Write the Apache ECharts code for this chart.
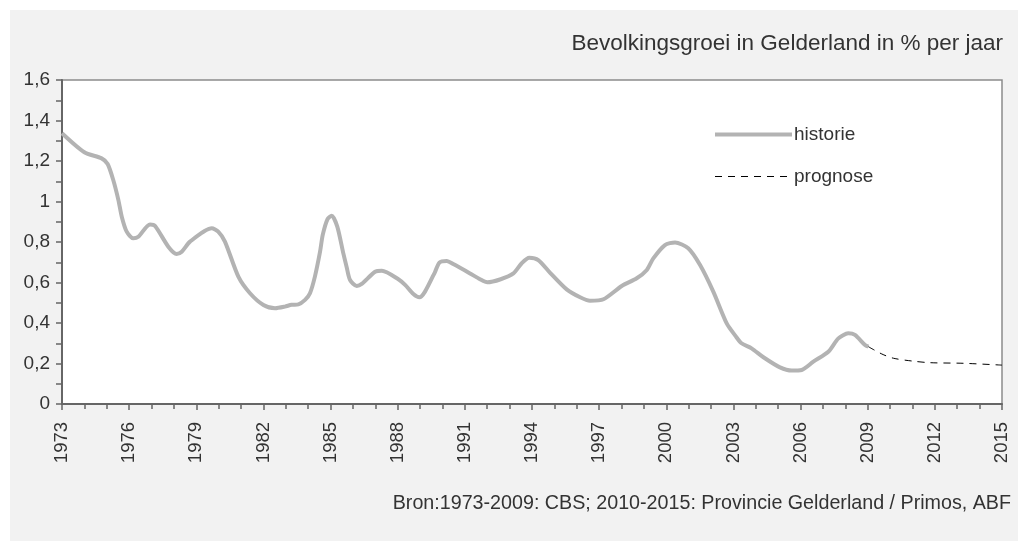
<!DOCTYPE html>
<html lang="nl">
<head>
  <meta charset="utf-8">
  <script src="https://cdn.jsdelivr.net/npm/echarts@6/dist/echarts.min.js"></script>
</head>
<body style="margin:0; background:#ffffff; width:1018px; height:541px; position:relative">
  <div id="container" style="position:absolute; left:10px; top:10px; width:1008px; height:531px; background:#f2f2f2"></div>
  <script>
    // historie (CBS)
    var histYears = [1973.0, 1974.0, 1974.77, 1975.04, 1975.29, 1975.52, 1975.67, 1975.89, 1976.19, 1976.41,
      1976.93, 1977.16, 1977.75, 1978.12, 1978.35, 1978.72, 1979.69, 1979.98, 1980.28, 1980.88,
      1981.40, 1982.0, 1982.52, 1982.96, 1983.26, 1983.56, 1983.86, 1984.08, 1984.30, 1984.53,
      1984.65, 1984.86, 1985.05, 1985.30, 1985.57, 1985.72, 1985.87, 1986.17, 1986.39, 1986.99,
      1987.29, 1988.03, 1988.33, 1988.70, 1988.97, 1989.22, 1989.67, 1989.86, 1990.19, 1990.48,
      1991.23, 1991.68, 1992.0, 1992.6, 1993.17, 1993.54, 1993.88, 1994.28, 1994.81, 1995.55,
      1996.15, 1996.59, 1997.19, 1998.01, 1998.68, 1999.13, 1999.42, 1999.94, 2000.39, 2000.98,
      2001.51, 2002.10, 2002.70, 2003.10, 2003.36, 2003.81, 2004.34, 2005.08, 2005.61, 2006.05,
      2006.57, 2007.24, 2007.69, 2008.13, 2008.43, 2008.88, 2009.03];
    var histValues = [1.337, 1.243, 1.213, 1.185, 1.106, 1.007, 0.925, 0.851, 0.818, 0.826,
      0.887, 0.879, 0.777, 0.741, 0.752, 0.802, 0.868, 0.851, 0.802, 0.629,
      0.547, 0.489, 0.473, 0.481, 0.490, 0.492, 0.514, 0.547, 0.629, 0.752,
      0.835, 0.912, 0.930, 0.876, 0.744, 0.675, 0.612, 0.583, 0.593, 0.653,
      0.658, 0.616, 0.588, 0.543, 0.527, 0.555, 0.653, 0.698, 0.706, 0.691,
      0.645, 0.616, 0.601, 0.616, 0.645, 0.695, 0.722, 0.711, 0.648, 0.566,
      0.527, 0.510, 0.517, 0.583, 0.621, 0.662, 0.719, 0.785, 0.798, 0.769,
      0.686, 0.555, 0.398, 0.335, 0.300, 0.275, 0.231, 0.181, 0.165, 0.168,
      0.209, 0.258, 0.324, 0.349, 0.341, 0.291, 0.283];

    // prognose 2010-2015
    var progYears = [2009.03, 2009.63, 2010.15, 2011.0, 2011.79, 2013.28, 2015.0];
    var progValues = [0.283, 0.247, 0.226, 0.212, 0.204, 0.201, 0.192];

    var yTicks = [0, 0.2, 0.4, 0.6, 0.8, 1, 1.2, 1.4, 1.6];

    function pairs(xs, ys) {
      return xs.map(function (x, i) { return [x, ys[i]]; });
    }

    var myChart = echarts.init(document.getElementById('container'), null, { renderer: 'canvas' });
    var txt = '#333333';
    var font = '"Liberation Sans", Arial, sans-serif';
    var histStyle = { color: '#b3b3b3', width: 4 };
    var progStyle = { color: '#000000', width: 1, type: [7, 6] };

    var option = {
      animation: false,
      textStyle: { fontFamily: font },
      title: [{
        text: 'Bevolkingsgroei in Gelderland in % per jaar',
        right: 10,
        top: 17,
        textStyle: { color: txt, fontSize: 22.5, fontWeight: 'normal', fontFamily: font }
      }, {
        text: 'Bron:1973-2009: CBS; 2010-2015: Provincie Gelderland / Primos, ABF',
        right: 2,
        bottom: 22,
        textStyle: { color: txt, fontSize: 19.7, fontWeight: 'normal', fontFamily: font }
      }],
      legend: {
        orient: 'vertical',
        left: 703,
        top: 115,
        padding: 0,
        itemWidth: 77,
        itemHeight: 14,
        itemGap: 23,
        textStyle: { color: txt, fontSize: 19, fontFamily: font, padding: [0, 0, 0, -3] },
        data: [
          { name: 'historie', itemStyle: { opacity: 0 }, lineStyle: histStyle },
          { name: 'prognose', itemStyle: { opacity: 0 }, lineStyle: progStyle }
        ]
      },
      grid: {
        left: 52,
        right: 16,
        top: 70,
        bottom: 137,
        show: true,
        backgroundColor: '#ffffff',
        borderColor: '#8c8c8c',
        borderWidth: 1.5
      },
      xAxis: {
        type: 'value',
        min: 1973,
        max: 2015,
        interval: 3,
        axisLine: { show: true, onZero: false, lineStyle: { color: '#666666', width: 2 } },
        axisTick: { show: true, inside: false, length: 6, lineStyle: { color: '#666666', width: 1.5 } },
        minorTick: { show: true, splitNumber: 3, length: 5, lineStyle: { color: '#666666', width: 1.5 } },
        splitLine: { show: false },
        axisLabel: {
          rotate: 90,
          margin: 18,
          color: txt,
          fontSize: 18.5,
          fontFamily: font,
          formatter: function (v) { return String(v); }
        }
      },
      yAxis: {
        type: 'value',
        min: yTicks[0],
        max: yTicks[yTicks.length - 1],
        interval: 0.2,
        axisLine: { show: true, lineStyle: { color: '#666666', width: 2 } },
        axisTick: { show: true, inside: false, length: 6, lineStyle: { color: '#666666', width: 1.5 } },
        minorTick: { show: true, splitNumber: 2, length: 6, lineStyle: { color: '#666666', width: 1.5 } },
        splitLine: { show: false },
        axisLabel: {
          margin: 12,
          color: txt,
          fontSize: 19,
          fontFamily: font,
          formatter: function (v) { return String(Math.round(v * 10) / 10).replace('.', ','); }
        }
      },
      series: [{
        name: 'historie',
        type: 'line',
        data: pairs(histYears, histValues),
        showSymbol: false,
        symbol: 'none',
        smooth: 0.25,
        lineStyle: histStyle,
        itemStyle: { color: '#b3b3b3' }
      }, {
        name: 'prognose',
        type: 'line',
        data: pairs(progYears, progValues),
        showSymbol: false,
        symbol: 'none',
        smooth: 0.3,
        lineStyle: progStyle,
        itemStyle: { color: '#000000' }
      }]
    };

    myChart.setOption(option);
    window.addEventListener('resize', myChart.resize);
  </script>
</body>
</html>
